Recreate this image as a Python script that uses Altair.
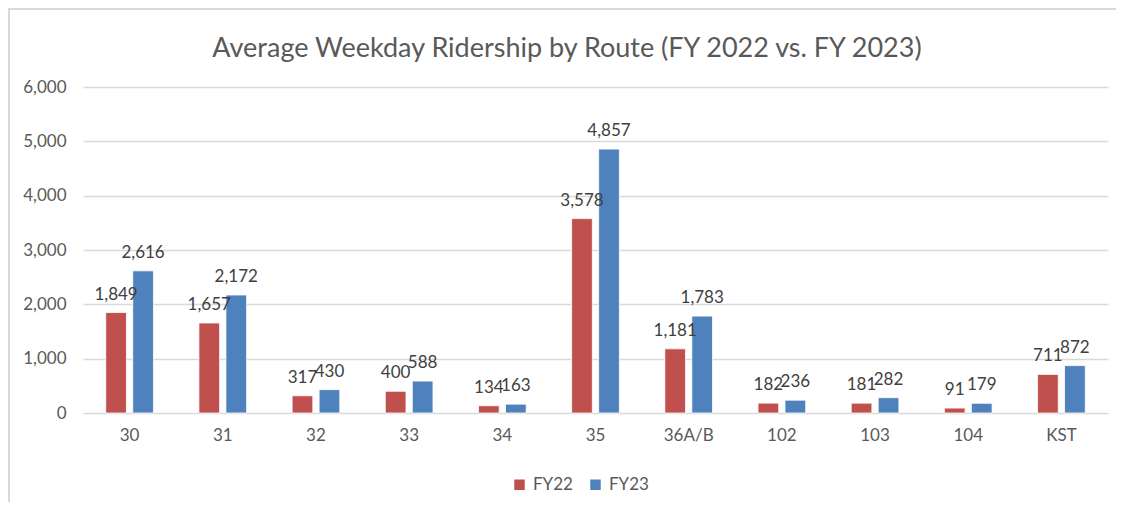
import altair as alt
import pandas as pd

title_text = "Average Weekday Ridership by Route (FY 2022 vs. FY 2023)"
routes = ["30", "31", "32", "33", "34", "35", "36A/B", "102", "103", "104", "KST"]
fy22 = [1849, 1657, 317, 400, 134, 3578, 1181, 182, 181, 91, 711]
fy23 = [2616, 2172, 430, 588, 163, 4857, 1783, 236, 282, 179, 872]
series = ["FY22", "FY23"]
colors = ["#C0504D", "#4F81BD"]
y_ticks = [0, 1000, 2000, 3000, 4000, 5000, 6000]

rows = []
for r, a, b in zip(routes, fy22, fy23):
    rows.append({"route": r, "series": series[0], "value": a})
    rows.append({"route": r, "series": series[1], "value": b})
df = pd.DataFrame(rows)

FONT = "Lato"
TXT = "#595959"
GRID = "#D9D9D9"

x_enc = alt.X("route:N", sort=routes, title=None,
              scale=alt.Scale(paddingInner=0.488, paddingOuter=0.244),
              axis=alt.Axis(labelAngle=0, ticks=False, tickSize=0, labelPadding=14,
                            domainColor=GRID, labelFont=FONT, labelFontSize=17,
                            labelColor=TXT, grid=False))
xo_enc = alt.XOffset("series:N", sort=series, scale=alt.Scale(paddingInner=0.233))
y_enc = alt.Y("value:Q", title=None,
              scale=alt.Scale(domain=[0, 6000]),
              axis=alt.Axis(values=y_ticks, format=",.0f", domain=False, ticks=False,
                            tickSize=0, labelPadding=17, gridColor=GRID, gridWidth=1.3,
                            labelFont=FONT, labelFontSize=17, labelColor=TXT))

base = alt.Chart(df)

bars = base.mark_bar(stroke="white", strokeWidth=0.8).encode(
    x=x_enc, xOffset=xo_enc, y=y_enc,
    color=alt.Color("series:N", sort=series,
                    scale=alt.Scale(domain=series, range=colors),
                    legend=alt.Legend(title=None, orient="none", direction="horizontal",
                                      legendX=428, legendY=389, symbolType="square",
                                      symbolSize=110, symbolStrokeWidth=0,
                                      labelFont=FONT, labelFontSize=17, labelColor=TXT,
                                      labelOffset=5, columnPadding=14, padding=0)),
)

labels = base.mark_text(baseline="alphabetic", dy=-13, font=FONT, fontSize=17,
                        color="#404040").encode(
    x=alt.X("route:N", sort=routes),
    xOffset=alt.XOffset("series:N", sort=series),
    y="value:Q",
    text=alt.Text("value:Q", format=",.0f"),
)

single = pd.DataFrame({"k": [0]})
frame_top = alt.Chart(single).mark_rule(color=GRID, strokeWidth=2).encode(
    x=alt.value(-75), x2=alt.value(1040), y=alt.value(-78)
)
frame_left = alt.Chart(single).mark_rule(color=GRID, strokeWidth=2).encode(
    x=alt.value(-74), y=alt.value(-79), y2=alt.value(420)
)
title = alt.Chart(single).mark_text(font=FONT, fontSize=27, fontWeight="normal", color=TXT,
                                    align="center", baseline="alphabetic").encode(
    x=alt.value(484), y=alt.value(-30), text=alt.value(title_text)
)

chart = alt.layer(frame_top, frame_left, title, bars, labels).properties(
    width=1025, height=326,
    background="white",
    autosize=alt.AutoSizeParams(type="none"),
    padding={"left": 75, "top": 79, "right": 8, "bottom": 89},
).configure_view(stroke="transparent", strokeWidth=0)

chart.save("out.html", embed_options={"renderer": "svg", "actions": False})
